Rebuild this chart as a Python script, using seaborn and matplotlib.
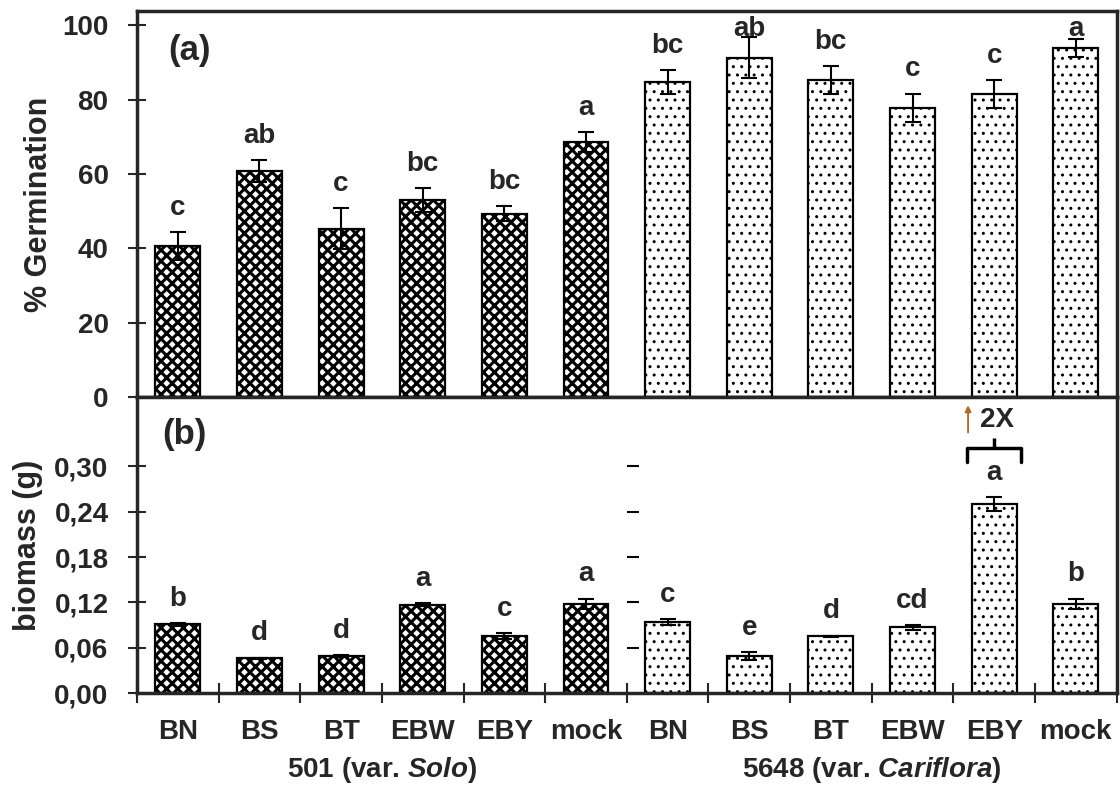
import numpy as np
import pandas as pd
import seaborn as sns
import matplotlib.pyplot as plt

# data
treatments = ["BN", "BS", "BT", "EBW", "EBY", "mock"]
cultivars = ["501", "5648"]

germ_501 = [40.6, 60.8, 45.3, 53.0, 49.3, 68.6]
germ_501_err = [3.8, 3.0, 5.6, 3.2, 2.0, 2.7]
germ_5648 = [84.8, 91.2, 85.3, 77.8, 81.5, 93.9]
germ_5648_err = [3.2, 5.5, 3.8, 3.8, 3.7, 2.5]
germ_letters = ["c", "ab", "c", "bc", "bc", "a", "bc", "ab", "bc", "c", "c", "a"]

bio_501 = [0.091, 0.046, 0.049, 0.117, 0.075, 0.118]
bio_501_err = [0.002, 0.001, 0.001, 0.002, 0.004, 0.007]
bio_5648 = [0.094, 0.049, 0.075, 0.087, 0.250, 0.118]
bio_5648_err = [0.004, 0.005, 0.001, 0.003, 0.009, 0.007]
bio_letters = ["b", "d", "d", "a", "c", "a", "c", "e", "d", "cd", "a", "b"]

germ_ticks = [0, 20, 40, 60, 80, 100]
bio_ticks = [0.00, 0.06, 0.12, 0.18, 0.24, 0.30]
bio_ticklabels = ["0,00", "0,06", "0,12", "0,18", "0,24", "0,30"]

group_labels = [r"501 (var. $\mathit{Solo}$)", r"5648 (var. $\mathit{Cariflora}$)"]

df = pd.DataFrame({
    "key": [c + "_" + t for c in cultivars for t in treatments],
    "treatment": treatments * 2,
    "cultivar": [c for c in cultivars for _ in treatments],
    "germ": germ_501 + germ_5648,
    "germ_err": germ_501_err + germ_5648_err,
    "bio": bio_501 + bio_5648,
    "bio_err": bio_501_err + bio_5648_err,
})

sns.set_style("ticks")
plt.rcParams["font.family"] = ["Liberation Sans", "DejaVu Sans"]
plt.rcParams["font.weight"] = "bold"
plt.rcParams["mathtext.fontset"] = "custom"
plt.rcParams["mathtext.it"] = "Liberation Sans:italic:bold"
plt.rcParams["mathtext.rm"] = "Liberation Sans:bold"
plt.rcParams["hatch.linewidth"] = 2.2

fig = plt.figure(figsize=(11.2, 7.92), dpi=100)
ax1 = fig.add_axes([0.1223, 0.4987, 0.8747, 0.4873])
ax2 = fig.add_axes([0.1223, 0.125, 0.8747, 0.3737], sharex=ax1)

hatches = {"501": "xxx", "5648": ".."}
hatch_lw = {"501": 2.2, "5648": 1.0}
fs = 20


def draw(ax, col, ecol, letters, offset, cap):
    sns.barplot(data=df, x="key", y=col, hue="cultivar", order=df["key"],
                palette=["white", "white"], dodge=False, width=0.55,
                edgecolor="black", linewidth=1.6, legend=False, ax=ax,
                errorbar=None)
    for patch, cv in zip(ax.patches, df["cultivar"]):
        patch.set_hatch(hatches[cv])
        if hasattr(patch, "set_hatch_linewidth"):
            patch.set_hatch_linewidth(hatch_lw[cv])
    xs = np.arange(len(df))
    ax.errorbar(xs, df[col], yerr=df[ecol], fmt="none", ecolor="black",
                elinewidth=1.5, capsize=6, capthick=1.5)
    for x, v, e, lab in zip(xs, df[col], df[ecol], letters):
        ax.text(x, min(v + e + offset, cap), lab, ha="center", va="center",
                fontsize=fs, fontweight="bold")
    for s in ax.spines.values():
        s.set_linewidth(2.5)
        s.set_visible(True)
    ax.set_xlabel("")


draw(ax1, "germ", "germ_err", germ_letters, 6.5, 99)
draw(ax2, "bio", "bio_err", bio_letters, 0.032, 0.40)

ax1.set_xlim(-0.5, 11.5)
ax1.set_ylim(0, 103.8)
ax1.set_yticks(germ_ticks)
ax1.set_yticklabels([str(t) for t in germ_ticks])
ax1.set_ylabel("% Germination", fontsize=22, fontweight="bold", labelpad=6)
ax1.tick_params(axis="x", bottom=False, labelbottom=False)
ax1.tick_params(axis="y", direction="inout", length=13, width=1.5,
                labelsize=fs, pad=14)
ax1.text(-0.12, 93.3, "(a)", fontsize=25, fontweight="bold", va="center")

ax2.set_ylim(0, 0.392)
ax2.set_yticks(bio_ticks)
ax2.set_yticklabels(bio_ticklabels)
ax2.set_ylabel("biomass (g)", fontsize=22, fontweight="bold", labelpad=8)
ax2.tick_params(axis="y", direction="inout", length=13, width=1.5,
                labelsize=fs, pad=14)
ax2.set_xticks(np.arange(-0.5, 12, 1.0))
ax2.set_xticklabels([])
ax2.set_xticks(np.arange(len(df)), minor=True)
ax2.set_xticklabels(df["treatment"], minor=True)
ax2.tick_params(axis="x", which="major", direction="inout", length=14, width=1.5)
ax2.tick_params(axis="x", which="minor", length=0, labelsize=fs, pad=19)
ax2.text(-0.19, 0.342, "(b)", fontsize=25, fontweight="bold", va="center")

# leftover tick dashes of the second cultivar's axis
ax2.plot([5.58] * (len(bio_ticks) - 1), bio_ticks[1:], ls="none", marker="_",
         ms=8, mew=1.5, color="black")

# group labels under the treatments
for g, lab in enumerate(group_labels):
    ax2.text(2.5 + 6 * g, -0.102, lab, ha="center", va="center",
             fontsize=fs, fontweight="bold")

# brace and fold-change note above EBY (5648)
i = 10
ytop, ybar, yarm = 0.338, 0.324, 0.306
ax2.plot([i, i], [ytop, ybar], color="black", lw=2.5, solid_capstyle="butt")
ax2.plot([i - 0.33, i - 0.33, i + 0.33, i + 0.33], [yarm, ybar, ybar, yarm],
         color="black", lw=2.5, solid_joinstyle="round")
ax2.annotate("", xy=(i - 0.32, 0.381), xytext=(i - 0.32, 0.345),
             arrowprops=dict(arrowstyle="-|>", color="#b5651d", lw=1.3,
                             mutation_scale=9, shrinkA=0, shrinkB=0))
ax2.text(i + 0.03, 0.362, "2X", fontsize=fs, fontweight="bold",
         ha="center", va="center")

fig.savefig("out.png", dpi=100)
